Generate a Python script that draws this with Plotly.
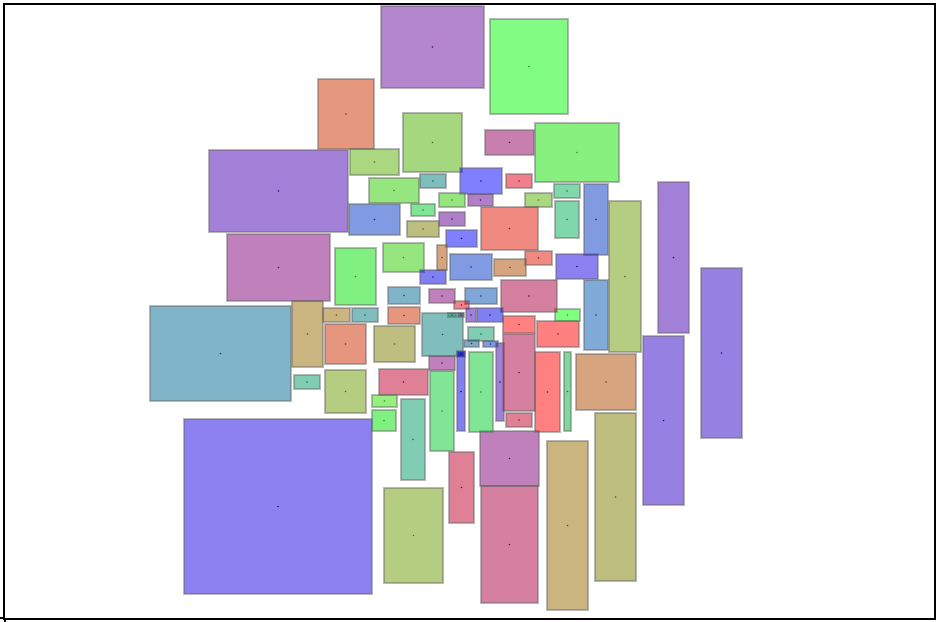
import plotly.graph_objects as go

# Packed rectangles, in page pixel units (left, top, right, bottom)
x_left = [381, 490, 318, 209, 227, 335, 150, 292, 323, 325, 294, 325, 184, 384, 481, 480,
          449, 401, 430, 379, 372, 372, 374, 422, 429, 457, 469, 496, 503, 506, 503, 535,
          564, 537, 555, 576, 595, 547, 643, 701, 658, 609, 584, 584, 556, 554, 555, 535,
          525, 525, 501, 403, 485, 350, 369, 420, 460, 506, 439, 468, 349, 411, 439, 407,
          481, 446, 383, 437, 450, 494, 420, 388, 429, 465, 454, 388, 466, 477, 448, 458,
          468, 464, 483, 352, 457]
y_top = [6, 19, 79, 150, 234, 248, 306, 301, 308, 324, 375, 370, 419, 488, 486, 431,
         452, 399, 371, 369, 395, 410, 326, 313, 356, 352, 352, 343, 334, 413, 316, 352,
         352, 321, 309, 354, 413, 441, 336, 268, 182, 201, 184, 280, 254, 184, 201, 123,
         193, 251, 280, 113, 130, 149, 178, 174, 168, 174, 193, 194, 204, 204, 212, 221,
         207, 230, 243, 245, 254, 259, 270, 287, 289, 288, 301, 307, 308, 308, 313, 313,
         327, 340, 341, 308, 351]
x_right = [484, 568, 374, 348, 330, 376, 291, 323, 350, 366, 320, 366, 372, 443, 538, 539,
           474, 425, 454, 428, 397, 396, 415, 463, 455, 465, 493, 504, 535, 532, 535, 560,
           571, 579, 580, 636, 636, 588, 684, 742, 689, 641, 608, 608, 598, 580, 579, 619,
           552, 552, 557, 462, 534, 399, 419, 446, 502, 532, 465, 493, 400, 435, 465, 439,
           538, 477, 424, 447, 492, 526, 446, 420, 455, 497, 469, 420, 476, 503, 456, 464,
           494, 479, 498, 378, 465]
y_bottom = [88, 114, 149, 232, 301, 305, 401, 367, 322, 364, 389, 413, 594, 583, 603, 486,
            523, 480, 451, 395, 407, 431, 362, 356, 370, 431, 432, 421, 411, 427, 333, 432,
            431, 347, 321, 410, 581, 610, 505, 438, 333, 352, 255, 350, 279, 198, 238, 182,
            207, 265, 312, 172, 155, 175, 203, 188, 194, 188, 207, 206, 235, 216, 226, 237,
            250, 247, 272, 270, 280, 276, 284, 304, 303, 304, 309, 324, 322, 322, 317, 317,
            341, 347, 347, 322, 357]
# colour as it looks on white (fills are drawn at 50% opacity)
colours = ["#b386ce", "#82fc82", "#e6987c", "#a380d8", "#bf80bc", "#80f080", "#80b4c8", "#cab47c",
           "#cab47c", "#e6967c", "#80cdb4", "#b4cd80", "#8c80f0", "#b4cd80", "#d680a0", "#bf80bc",
           "#e08096", "#80cdb4", "#80e696", "#e08096", "#96f06e", "#80f080", "#bebe80", "#80bebe",
           "#bf80bc", "#8080f0", "#80e696", "#a080dc", "#d680a0", "#e08096", "#ff8080", "#ff8080",
           "#80d7a0", "#ff8080", "#80ff80", "#d6a57d", "#bebe80", "#cab47c", "#9680e1", "#9680e1",
           "#a380d8", "#b4cd80", "#809be1", "#80aad7", "#8c80f0", "#80d7aa", "#80d7aa", "#88f078",
           "#aad778", "#f08a80", "#d680a0", "#a5d778", "#c87daf", "#aad778", "#96e678", "#80bebe",
           "#8080ff", "#f0808c", "#96e678", "#af80c8", "#809be1", "#80e696", "#af80c8", "#bebe80",
           "#f08a80", "#8080ff", "#96e678", "#d6a57d", "#809be1", "#d6a57d", "#8080f0", "#80b4c8",
           "#bf80bc", "#80a5d7", "#f0808c", "#e6967c", "#a080dc", "#8080f0", "#80cdb4", "#a0a0c0",
           "#80cdb4", "#80aac8", "#809be1", "#80bebe", "#8080f0"]


def base_rgb(hex_colour):
    # undo the 50% blend on white
    vals = [int(hex_colour[i:i + 2], 16) for i in (1, 3, 5)]
    return [max(0, min(255, 2 * v - 255)) for v in vals]


fig = go.Figure()

for xl, yt, xr, yb, col in zip(x_left, y_top, x_right, y_bottom, colours):
    r, g, b = base_rgb(col)
    fig.add_shape(
        type="rect", x0=xl, x1=xr, y0=yt, y1=yb,
        fillcolor=f"rgba({r},{g},{b},0.5)",
        line=dict(color="rgba(100,100,100,0.45)", width=2),
        layer="below",
    )

# small dot at the centre of every rectangle
cx = [(a + b) / 2 for a, b in zip(x_left, x_right)]
cy = [(a + b) / 2 for a, b in zip(y_top, y_bottom)]
dot_cols = []
for col in colours:
    r, g, b = base_rgb(col)
    dot_cols.append(f"rgb({int(r * 0.7)},{int(g * 0.7)},{int(b * 0.7)})")

fig.add_trace(go.Scatter(
    x=cx, y=cy, mode="markers",
    marker=dict(size=1.6, color=dot_cols, line=dict(width=0)),
    hoverinfo="skip", showlegend=False,
))

axis_common = dict(
    showgrid=False, zeroline=False, showline=True, mirror=True,
    linecolor="black", linewidth=2, ticks="outside", ticklen=4,
    tickwidth=2, tickcolor="black", showticklabels=False, fixedrange=True,
    automargin=False,
)
fig.update_xaxes(range=[5, 934], tickvals=[5], **axis_common)
fig.update_yaxes(range=[618, 5], tickvals=[618], **axis_common)

fig.update_layout(
    width=939, height=622,
    margin=dict(l=5, r=5, t=5, b=4, autoexpand=False),
    plot_bgcolor="white", paper_bgcolor="white",
    showlegend=False,
)

# drop the page's default body margin so the figure sits at the window corner
fig.write_html(
    "out.html",
    config={"displayModeBar": False},
    post_script="document.body.style.margin = '0';",
)
